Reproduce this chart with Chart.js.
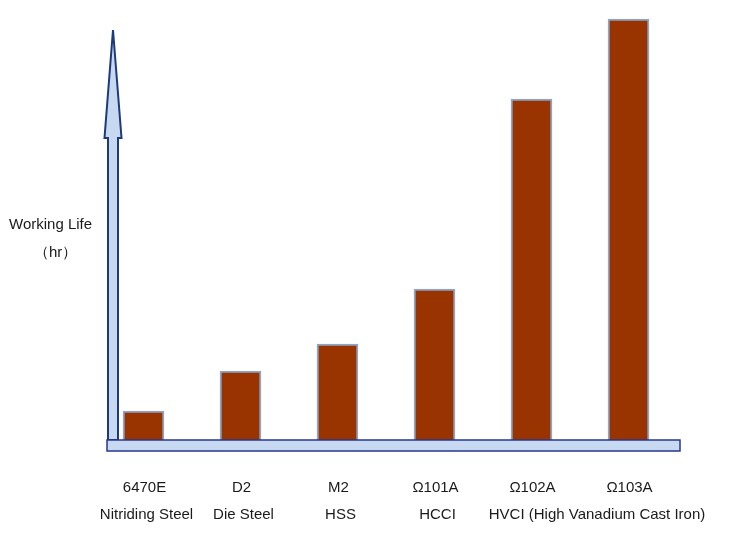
<!DOCTYPE html>
<html>
<head>
<meta charset="utf-8">
<script src="https://cdn.jsdelivr.net/npm/chart.js@4"></script>
<style>
html,body{margin:0;padding:0;background:#fff;}
#wrap{width:744px;height:546px;position:relative;}
</style>
</head>
<body>
<div id="wrap"><canvas id="c" width="744" height="546"></canvas></div>
<script>
const categories = ["6470E", "D2", "M2", "Ω101A", "Ω102A", "Ω103A"];
const subLabels = ["Nitriding Steel", "Die Steel", "HSS", "HCCI", "", ""];
const sharedSubLabel = "HVCI (High Vanadium Cast Iron)";
const workingLife = [29, 69, 96, 151, 341, 421];
const yMax = 430;
const axisTitle = ["Working Life", "（hr）"];

const decor = {
  id: 'decor',
  beforeDatasetsDraw(chart) {
    const ctx = chart.ctx, a = chart.chartArea;
    const cx = a.left + 18, hw = 5, headHw = 8.5, tip = 30, headBase = 138;
    ctx.save();
    ctx.beginPath();
    ctx.moveTo(cx - hw, a.bottom);
    ctx.lineTo(cx - hw, headBase);
    ctx.lineTo(cx - headHw, headBase);
    ctx.lineTo(cx, tip);
    ctx.lineTo(cx + headHw, headBase);
    ctx.lineTo(cx + hw, headBase);
    ctx.lineTo(cx + hw, a.bottom);
    ctx.closePath();
    ctx.fillStyle = '#c6d9f1';
    ctx.fill();
    ctx.lineWidth = 2;
    ctx.strokeStyle = '#1f3a7a';
    ctx.lineJoin = 'miter';
    ctx.stroke();
    ctx.restore();
  },
  afterDatasetsDraw(chart) {
    const ctx = chart.ctx, a = chart.chartArea;
    const xs = chart.scales.x;
    ctx.save();
    // base bar
    const x0 = a.left + 12, x1 = a.right + 3;
    ctx.fillStyle = '#c6d9f1';
    ctx.fillRect(x0, a.bottom, x1 - x0, 11);
    ctx.lineWidth = 1.5;
    ctx.strokeStyle = '#27378a';
    ctx.strokeRect(x0, a.bottom, x1 - x0, 11);
    // labels
    ctx.fillStyle = '#1a1a1a';
    ctx.font = '15px "Liberation Sans", Arial, sans-serif';
    ctx.textAlign = 'center';
    ctx.textBaseline = 'middle';
    categories.forEach((c, i) => {
      const x = xs.getPixelForValue(i) + 1;
      ctx.fillText(c, x, 488);
      if (subLabels[i]) ctx.fillText(subLabels[i], x + 2, 515);
    });
    const mid = (xs.getPixelForValue(4) + xs.getPixelForValue(5)) / 2 + 17;
    ctx.fillText(sharedSubLabel, mid, 515);
    // axis title
    ctx.textAlign = 'left';
    ctx.fillText(axisTitle[0], 9, 225);
    ctx.fillText(axisTitle[1], 34, 253);
    ctx.restore();
  }
};

new Chart(document.getElementById('c'), {
  type: 'bar',
  data: {
    labels: categories,
    datasets: [{
      data: workingLife,
      backgroundColor: '#993300',
      borderColor: '#8ea5c6',
      borderWidth: 2,
      barThickness: 41
    }]
  },
  options: {
    responsive: false,
    animation: false,
    layout: { padding: { left: 95, right: 67, top: 10, bottom: 106 } },
    plugins: { legend: { display: false }, tooltip: { enabled: false } },
    scales: {
      x: { display: false, offset: true },
      y: { display: false, min: 0, max: yMax }
    }
  },
  plugins: [decor]
});
</script>
</body>
</html>
